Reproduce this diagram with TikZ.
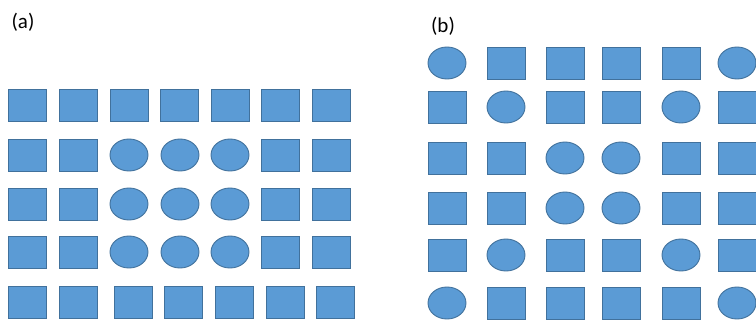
\documentclass[tikz,border=0pt]{standalone}
\usepackage{fontspec}
\setmainfont{Carlito}
\usetikzlibrary{shapes.geometric}
\definecolor{cellfill}{HTML}{5B9BD5}
\definecolor{celldraw}{HTML}{41719C}
\tikzset{
  sqcell/.style={draw=celldraw, fill=cellfill, line width=0.9pt, minimum width=38pt, minimum height=32pt, inner sep=0pt},
  elcell/.style={ellipse, draw=celldraw, fill=cellfill, line width=0.9pt, minimum width=38pt, minimum height=32pt, inner sep=0pt},
  panellabel/.style={font=\fontsize{21}{24}\selectfont, inner sep=0pt}
}

\begin{document}
\begin{tikzpicture}[x=1pt, y=-1pt]
  \useasboundingbox (0,0) rectangle (756,323);
  % panel (a)
  \node[panellabel] (la) at (23,22) {(a)};
  \foreach \c/\x in {1/27,2/78,3/129,4/179,5/230,6/280,7/331}
    \node[sqcell] (a-1-\c) at (\x,105) {};
  \foreach \r/\y in {2/155,3/204,4/252} {
    \node[sqcell] (a-\r-1) at (27,\y) {};
    \node[sqcell] (a-\r-2) at (78,\y) {};
    \node[elcell] (a-\r-3) at (129,\y) {};
    \node[elcell] (a-\r-4) at (180,\y) {};
    \node[elcell] (a-\r-5) at (230,\y) {};
    \node[sqcell] (a-\r-6) at (280,\y) {};
    \node[sqcell] (a-\r-7) at (331,\y) {};
  }
  \foreach \c/\x in {1/27,2/78,3/133,4/183,5/234,6/285,7/335}
    \node[sqcell] (a-5-\c) at (\x,302) {};
  % panel (b)
  \node[panellabel] (lb) at (443,26) {(b)};
  \foreach \r/\y/\kinds in {1/63/{el,sq,sq,sq,sq,el},2/107/{sq,el,sq,sq,el,sq},3/158/{sq,sq,el,el,sq,sq},
                            4/208/{sq,sq,el,el,sq,sq},5/255/{sq,el,sq,sq,el,sq},6/303/{el,sq,sq,sq,sq,el}}
    \foreach \k [count=\c] in \kinds {
      \pgfmathsetmacro\xb{{447,506,565,621,681,737}[\c-1]}
      \node[\k cell] (b-\r-\c) at (\xb,\y) {};
    }
\end{tikzpicture}
\end{document}
